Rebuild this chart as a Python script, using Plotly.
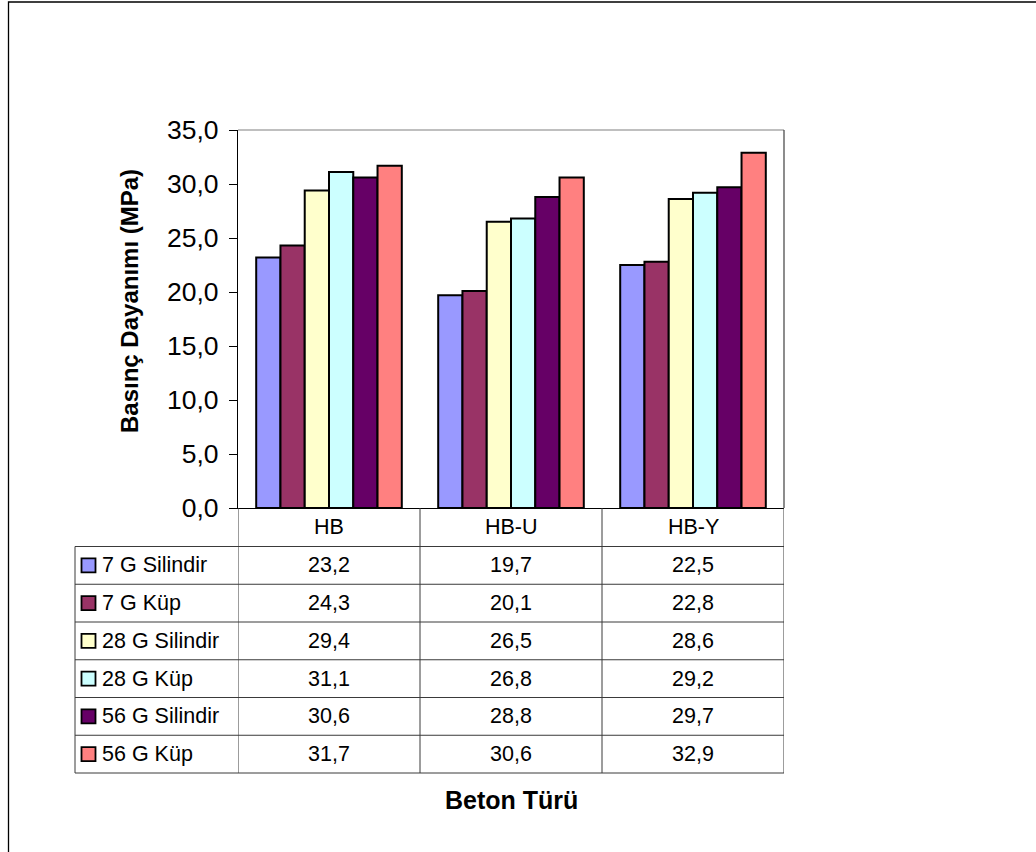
import plotly.graph_objects as go

# Concrete types and compressive strength results (MPa)
categories = ["HB", "HB-U", "HB-Y"]
series_names = ["7 G Silindir", "7 G Küp", "28 G Silindir", "28 G Küp", "56 G Silindir", "56 G Küp"]
silindir_7 = [23.2, 19.7, 22.5]
kup_7 = [24.3, 20.1, 22.8]
silindir_28 = [29.4, 26.5, 28.6]
kup_28 = [31.1, 26.8, 29.2]
silindir_56 = [30.6, 28.8, 29.7]
kup_56 = [31.7, 30.6, 32.9]
series_values = [silindir_7, kup_7, silindir_28, kup_28, silindir_56, kup_56]
colors = ["#9999FF", "#993366", "#FFFFCC", "#CCFFFF", "#660066", "#FF8080"]
y_title = "Basınç Dayanımı (MPa)"
x_title = "Beton Türü"

FONT = "Liberation Sans, Arial, sans-serif"
W, H = 1036, 852
L, R, T, B = 238, 784, 130, 508          # plot area in pixels
PW, PH = R - L, B - T
TABLE_FS = 21.5


def px(x):
    return (x - L) / PW


def py(y):
    return (B - y) / PH


def fmt(v):
    return f"{v:.1f}".replace(".", ",")


fig = go.Figure()
for name, vals, col in zip(series_names, series_values, colors):
    fig.add_trace(go.Bar(
        x=categories, y=vals, name=name,
        marker=dict(color=col, line=dict(color="black", width=2)),
    ))

shapes = []
annotations = []
grid = dict(color="#3a3a3a", width=1)

# outer chart frame
shapes.append(dict(type="rect", xref="paper", yref="paper",
                   x0=px(8.5), x1=px(W + 20), y0=py(2), y1=py(H + 20),
                   line=dict(color="black", width=1.3)))
# plot area top and right border
shapes.append(dict(type="line", xref="paper", yref="paper",
                   x0=0, x1=1, y0=1, y1=1, line=dict(color="#808080", width=1.2)))
shapes.append(dict(type="line", xref="paper", yref="paper",
                   x0=1, x1=1, y0=1, y1=0, line=dict(color="#404040", width=1.2)))

# data table grid
tbl_left = 75
head_bottom = 546.5
row_h = 37.75
n_rows = len(series_names)
tbl_bottom = head_bottom + n_rows * row_h
for i in range(n_rows + 1):
    y = head_bottom + i * row_h
    shapes.append(dict(type="line", xref="paper", yref="paper",
                       x0=px(tbl_left), x1=1, y0=py(y), y1=py(y), line=grid))
shapes.append(dict(type="line", xref="paper", yref="paper",
                   x0=px(tbl_left), x1=px(tbl_left), y0=py(head_bottom), y1=py(tbl_bottom), line=grid))
for k in range(len(categories) + 1):
    shapes.append(dict(type="line", xref="x", yref="paper",
                       x0=k - 0.5, x1=k - 0.5, y0=0, y1=py(tbl_bottom), line=grid))

# header row with category names
for c in categories:
    annotations.append(dict(x=c, xref="x", y=py((B + head_bottom) / 2), yref="paper",
                            text=c, showarrow=False, xanchor="center", yanchor="middle",
                            font=dict(family=FONT, size=TABLE_FS, color="black")))

# table rows: legend key, series name, values
for i, (name, vals, col) in enumerate(zip(series_names, series_values, colors)):
    yc = head_bottom + (i + 0.5) * row_h
    shapes.append(dict(type="rect", xref="paper", yref="paper",
                       x0=px(81.5), x1=px(95.5), y0=py(yc - 7), y1=py(yc + 7),
                       fillcolor=col, line=dict(color="black", width=1.8)))
    annotations.append(dict(x=px(100), xref="paper", y=py(yc), yref="paper",
                            text=name, showarrow=False, xanchor="left", yanchor="middle",
                            font=dict(family=FONT, size=TABLE_FS, color="black")))
    for c, v in zip(categories, vals):
        annotations.append(dict(x=c, xref="x", y=py(yc), yref="paper",
                                text=fmt(v), showarrow=False, xanchor="center", yanchor="middle",
                                font=dict(family=FONT, size=TABLE_FS, color="black")))

# axis titles
annotations.append(dict(x=px(129), xref="paper", y=py(301), yref="paper",
                        text=f"<b>{y_title}</b>", showarrow=False, textangle=-90,
                        xanchor="center", yanchor="middle",
                        font=dict(family=FONT, size=24, color="black")))
annotations.append(dict(x=0.5, xref="paper", y=py(800), yref="paper",
                        text=f"<b>{x_title}</b>", showarrow=False,
                        xanchor="center", yanchor="middle",
                        font=dict(family=FONT, size=25, color="black")))

fig.update_layout(
    width=W, height=H, autosize=False,
    margin=dict(l=L, r=W - R, t=T, b=H - B, pad=0),
    paper_bgcolor="white", plot_bgcolor="white",
    barmode="group", bargap=0.2, bargroupgap=0,
    showlegend=False,
    separators=", ",
    font=dict(family=FONT, color="black"),
    shapes=shapes, annotations=annotations,
)
fig.update_xaxes(
    range=[-0.5, len(categories) - 0.5], showticklabels=False, ticks="",
    showline=True, linecolor="black", linewidth=1.2, showgrid=False, zeroline=False,
)
fig.update_yaxes(
    range=[0, 35], dtick=5, tick0=0, tickformat=".1f",
    ticks="outside", ticklen=8, tickcolor="black", tickwidth=1,
    ticklabelstandoff=5,
    showline=True, linecolor="black", linewidth=1.2, showgrid=False, zeroline=False,
    tickfont=dict(family=FONT, size=26.5, color="black"),
)

fig.write_html("out.html")
